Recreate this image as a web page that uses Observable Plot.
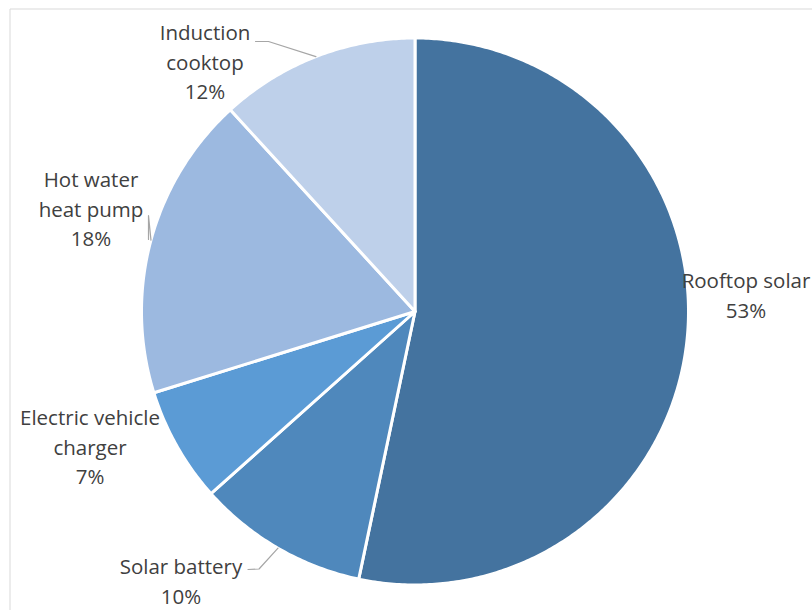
<!DOCTYPE html>
<html>
<head>
<meta charset="utf-8">
<script src="https://cdn.jsdelivr.net/npm/d3@7"></script>
<script src="https://cdn.jsdelivr.net/npm/@observablehq/plot@0.6"></script>
<style>
  html, body { margin: 0; padding: 0; background: #fff; }
  #chart svg { display: block; }
</style>
</head>
<body>
<div id="chart"></div>
<script>
// ---- data ----
const categories = ["Rooftop solar", "Solar battery", "Electric vehicle charger", "Hot water heat pump", "Induction cooktop"];
const labelText = ["Rooftop solar", "Solar battery", "Electric vehicle\ncharger", "Hot water\nheat pump", "Induction\ncooktop"];
const shares = [53.3, 10.1, 6.8, 18.0, 11.8];
const colors = ["#44739F", "#4F88BC", "#5B9BD5", "#9CB9E0", "#BED0EA"];

// ---- layout ----
const W = 812, H = 610;
const cx = 414.5, cy = 311, R = 273.5;
// label centre offsets from pie centre (px) and leader line shapes
const labelOffsets = [[331, -18], [-234, 268], [-325, 134], [-324, -104], [-210, -251]];
const leaders = [null, [[-167, 258], [-156, 257.5]], null, [[-266.5, -72], [-266.5, -96]], [[-159.5, -270], [-146.5, -270]]];

const total = d3.sum(shares);
const pie = d3.pie().sort(null).value(d => d).startAngle(0).endAngle(2 * Math.PI)(shares);

const pt = (a, r) => [cx + r * Math.sin(a), cy - r * Math.cos(a)];

const slicePts = [];
pie.forEach((p, i) => {
  slicePts.push({name: categories[i], x: cx, y: cy});
  const n = Math.max(4, Math.ceil((p.endAngle - p.startAngle) / 0.01));
  for (let k = 0; k <= n; k++) {
    const a = p.startAngle + (p.endAngle - p.startAngle) * k / n;
    const [x, y] = pt(a, R);
    slicePts.push({name: categories[i], x, y});
  }
});

const labels = pie.map((p, i) => ({
  text: labelText[i] + "\n" + Math.round(shares[i] / total * 100) + "%",
  x: cx + labelOffsets[i][0],
  y: cy + labelOffsets[i][1]
}));

const leaderPts = [];
pie.forEach((p, i) => {
  if (!leaders[i]) return;
  const mid = (p.startAngle + p.endAngle) / 2;
  const [ex, ey] = pt(mid, R);
  leaders[i].forEach(([dx, dy]) => leaderPts.push({id: i, x: cx + dx, y: cy + dy}));
  leaderPts.push({id: i, x: ex, y: ey});
});
const frame = [{x1: 9.5, y1: 8.5, x2: 9.5, y2: H}, {x1: 9.5, y1: 8.5, x2: W, y2: 8.5}];

const chart = Plot.plot({
  width: W,
  height: H,
  margin: 0,
  x: {type: "identity", axis: null},
  y: {type: "identity", axis: null},
  color: {domain: categories, range: colors},
  style: {fontFamily: "'Open Sans', Lato, sans-serif", background: "#fff"},
  marks: [
    Plot.link(frame, {x1: "x1", y1: "y1", x2: "x2", y2: "y2", stroke: "#D9D9D9", strokeWidth: 1}),
    Plot.line(slicePts, {x: "x", y: "y", z: "name", fill: "name", stroke: "#fff", strokeWidth: 3, strokeLinejoin: "round", curve: "linear-closed"}),
    Plot.line(leaderPts, {x: "x", y: "y", z: "id", stroke: "#A6A6A6", strokeWidth: 1.2}),
    Plot.text(labels, {x: "x", y: "y", text: "text", fontSize: 20.5, fontFamily: "'Open Sans', sans-serif", fill: "#404040", lineHeight: 1.44, lineAnchor: "middle", textAnchor: "middle"})
  ]
});
document.getElementById("chart").append(chart);
</script>
</body>
</html>
